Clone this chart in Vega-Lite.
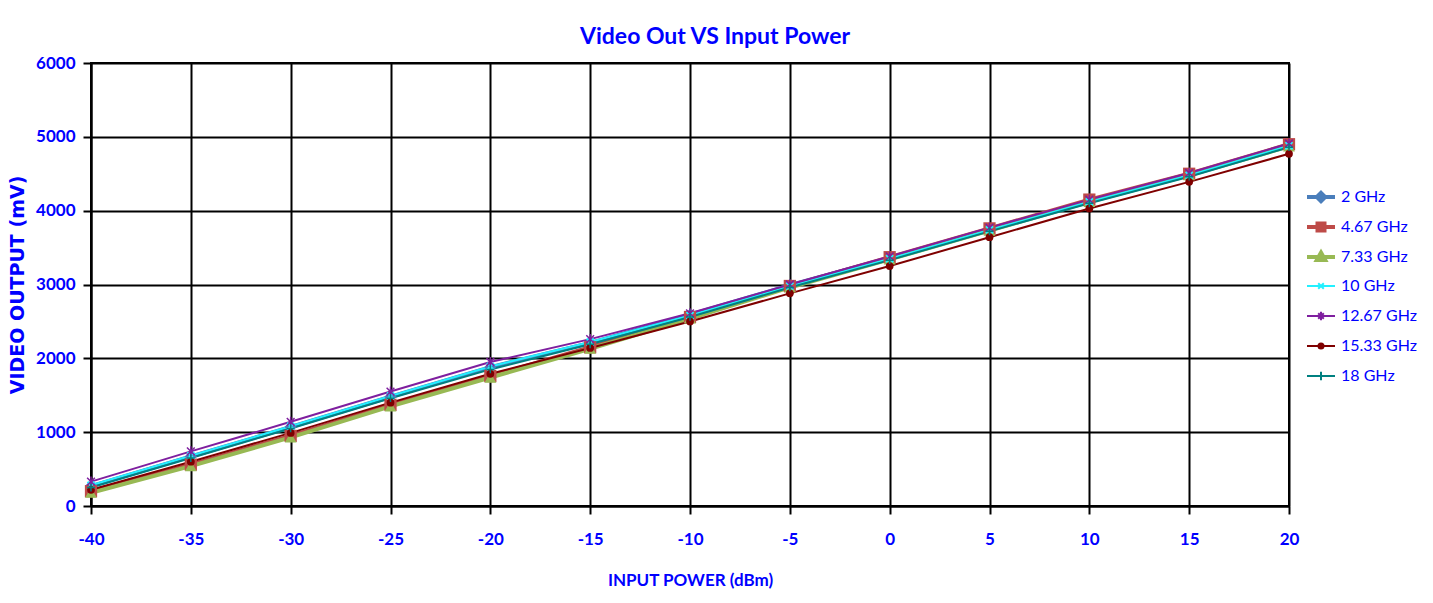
{
  "$schema": "https://vega.github.io/schema/vega-lite/v6.json",
  "width": 1198,
  "height": 443,
  "autosize": {"type": "none"},
  "padding": {"left": 91, "top": 63, "right": 144, "bottom": 97},
  "background": "white",
  "title": {"text": "Video Out VS Input Power", "font": "Lato", "fontSize": 23, "fontWeight": "bold", "color": "#0000FF", "offset": 5, "dx": 25},
  "config": {"view": {"stroke": "black", "strokeWidth": 2}},
  "data": {"values": [
    {"s": "2 GHz", "p": -40, "v": 270}, {"s": "2 GHz", "p": -35, "v": 670}, {"s": "2 GHz", "p": -30, "v": 1070}, {"s": "2 GHz", "p": -25, "v": 1480}, {"s": "2 GHz", "p": -20, "v": 1880}, {"s": "2 GHz", "p": -15, "v": 2210}, {"s": "2 GHz", "p": -10, "v": 2590}, {"s": "2 GHz", "p": -5, "v": 2990}, {"s": "2 GHz", "p": 0, "v": 3360}, {"s": "2 GHz", "p": 5, "v": 3750}, {"s": "2 GHz", "p": 10, "v": 4130}, {"s": "2 GHz", "p": 15, "v": 4490}, {"s": "2 GHz", "p": 20, "v": 4880},
    {"s": "4.67 GHz", "p": -40, "v": 200}, {"s": "4.67 GHz", "p": -35, "v": 560}, {"s": "4.67 GHz", "p": -30, "v": 950}, {"s": "4.67 GHz", "p": -25, "v": 1370}, {"s": "4.67 GHz", "p": -20, "v": 1760}, {"s": "4.67 GHz", "p": -15, "v": 2150}, {"s": "4.67 GHz", "p": -10, "v": 2560}, {"s": "4.67 GHz", "p": -5, "v": 2980}, {"s": "4.67 GHz", "p": 0, "v": 3370}, {"s": "4.67 GHz", "p": 5, "v": 3760}, {"s": "4.67 GHz", "p": 10, "v": 4150}, {"s": "4.67 GHz", "p": 15, "v": 4500}, {"s": "4.67 GHz", "p": 20, "v": 4900},
    {"s": "7.33 GHz", "p": -40, "v": 180}, {"s": "7.33 GHz", "p": -35, "v": 540}, {"s": "7.33 GHz", "p": -30, "v": 930}, {"s": "7.33 GHz", "p": -25, "v": 1350}, {"s": "7.33 GHz", "p": -20, "v": 1740}, {"s": "7.33 GHz", "p": -15, "v": 2130}, {"s": "7.33 GHz", "p": -10, "v": 2540}, {"s": "7.33 GHz", "p": -5, "v": 2960}, {"s": "7.33 GHz", "p": 0, "v": 3340}, {"s": "7.33 GHz", "p": 5, "v": 3730}, {"s": "7.33 GHz", "p": 10, "v": 4120}, {"s": "7.33 GHz", "p": 15, "v": 4480}, {"s": "7.33 GHz", "p": 20, "v": 4870},
    {"s": "10 GHz", "p": -40, "v": 280}, {"s": "10 GHz", "p": -35, "v": 680}, {"s": "10 GHz", "p": -30, "v": 1080}, {"s": "10 GHz", "p": -25, "v": 1490}, {"s": "10 GHz", "p": -20, "v": 1890}, {"s": "10 GHz", "p": -15, "v": 2220}, {"s": "10 GHz", "p": -10, "v": 2580}, {"s": "10 GHz", "p": -5, "v": 2980}, {"s": "10 GHz", "p": 0, "v": 3350}, {"s": "10 GHz", "p": 5, "v": 3740}, {"s": "10 GHz", "p": 10, "v": 4120}, {"s": "10 GHz", "p": 15, "v": 4480}, {"s": "10 GHz", "p": 20, "v": 4880},
    {"s": "12.67 GHz", "p": -40, "v": 330}, {"s": "12.67 GHz", "p": -35, "v": 740}, {"s": "12.67 GHz", "p": -30, "v": 1140}, {"s": "12.67 GHz", "p": -25, "v": 1550}, {"s": "12.67 GHz", "p": -20, "v": 1950}, {"s": "12.67 GHz", "p": -15, "v": 2260}, {"s": "12.67 GHz", "p": -10, "v": 2610}, {"s": "12.67 GHz", "p": -5, "v": 3000}, {"s": "12.67 GHz", "p": 0, "v": 3380}, {"s": "12.67 GHz", "p": 5, "v": 3770}, {"s": "12.67 GHz", "p": 10, "v": 4150}, {"s": "12.67 GHz", "p": 15, "v": 4510}, {"s": "12.67 GHz", "p": 20, "v": 4910},
    {"s": "15.33 GHz", "p": -40, "v": 220}, {"s": "15.33 GHz", "p": -35, "v": 600}, {"s": "15.33 GHz", "p": -30, "v": 990}, {"s": "15.33 GHz", "p": -25, "v": 1400}, {"s": "15.33 GHz", "p": -20, "v": 1790}, {"s": "15.33 GHz", "p": -15, "v": 2140}, {"s": "15.33 GHz", "p": -10, "v": 2500}, {"s": "15.33 GHz", "p": -5, "v": 2880}, {"s": "15.33 GHz", "p": 0, "v": 3250}, {"s": "15.33 GHz", "p": 5, "v": 3640}, {"s": "15.33 GHz", "p": 10, "v": 4030}, {"s": "15.33 GHz", "p": 15, "v": 4390}, {"s": "15.33 GHz", "p": 20, "v": 4770},
    {"s": "18 GHz", "p": -40, "v": 250}, {"s": "18 GHz", "p": -35, "v": 650}, {"s": "18 GHz", "p": -30, "v": 1050}, {"s": "18 GHz", "p": -25, "v": 1460}, {"s": "18 GHz", "p": -20, "v": 1850}, {"s": "18 GHz", "p": -15, "v": 2190}, {"s": "18 GHz", "p": -10, "v": 2560}, {"s": "18 GHz", "p": -5, "v": 2960}, {"s": "18 GHz", "p": 0, "v": 3330}, {"s": "18 GHz", "p": 5, "v": 3720}, {"s": "18 GHz", "p": 10, "v": 4100}, {"s": "18 GHz", "p": 15, "v": 4460}, {"s": "18 GHz", "p": 20, "v": 4860}
  ]},
  "encoding": {
    "x": {"field": "p", "type": "quantitative",
      "scale": {"domain": [-40, 20], "nice": false, "zero": false},
      "axis": {"values": [-40, -35, -30, -25, -20, -15, -10, -5, 0, 5, 10, 15, 20], "title": "INPUT POWER (dBm)",
        "labelExpr": "toString(datum.value)",
        "grid": true, "gridColor": "black", "gridWidth": 2, "gridOpacity": 1,
        "domainColor": "black", "domainWidth": 2, "tickColor": "black", "tickWidth": 2, "tickSize": 8,
        "labelFont": "Lato", "labelFontSize": 17, "labelFontWeight": "bold", "labelColor": "#0000FF", "labelPadding": 17, "labelFlush": false,
        "titleFont": "Lato", "titleFontSize": 17, "titleFontWeight": "bold", "titleColor": "#0000FF", "titlePadding": 25}},
    "y": {"field": "v", "type": "quantitative",
      "scale": {"domain": [0, 6000], "nice": false},
      "axis": {"values": [0, 1000, 2000, 3000, 4000, 5000, 6000], "title": "VIDEO OUTPUT (mV)", "format": "d",
        "grid": true, "gridColor": "black", "gridWidth": 2, "gridOpacity": 1,
        "domainColor": "black", "domainWidth": 2, "tickColor": "black", "tickWidth": 2, "tickSize": 8,
        "labelFont": "Lato", "labelFontSize": 17, "labelFontWeight": "bold", "labelColor": "#0000FF", "labelPadding": 8,
        "titleFont": "DejaVu Sans", "titleFontSize": 19, "titleFontWeight": "bold", "titleColor": "#0000FF", "titlePadding": 8}}
  },
  "layer": [
    {"transform": [{"filter": "false"}],
     "mark": {"type": "point", "filled": true, "opacity": 1},
     "encoding": {
       "color": {"field": "s", "type": "nominal",
         "scale": {"domain": ["2 GHz", "4.67 GHz", "7.33 GHz", "10 GHz", "12.67 GHz", "15.33 GHz", "18 GHz"],
           "range": ["#4A7EBB", "#BE4B48", "#98B954", "#22F0FF", "#7F1F9F", "#7F0000", "#008080"]},
         "legend": {"orient": "none", "legendX": 1214, "legendY": 118, "title": null, "padding": 0,
           "symbolSize": 784, "rowPadding": 1, "gridAlign": "all", "labelOffset": 4,
           "labelFont": "Lato", "labelFontSize": 16, "labelColor": "#0000FF", "symbolOpacity": 1}},
       "shape": {"field": "s", "type": "nominal",
         "scale": {"domain": ["2 GHz", "4.67 GHz", "7.33 GHz", "10 GHz", "12.67 GHz", "15.33 GHz", "18 GHz"],
           "range": [
             "M-1,0L1,0M0,-0.3L0.3,0L0,0.3L-0.3,0Z",
             "M-1,0L1,0M-0.25,-0.25L0.25,-0.25L0.25,0.25L-0.25,0.25Z",
             "M-1,0L1,0M0,-0.32L0.3,0.22L-0.3,0.22Z",
             "M-1,0L1,0M-0.2,-0.2L0.2,0.2M-0.2,0.2L0.2,-0.2",
             "M-1,0L1,0M-0.2,-0.2L0.2,0.2M-0.2,0.2L0.2,-0.2M0,-0.3L0,0.3",
             "M-1,0L1,0M0.18,0A0.18,0.18,0,1,1,-0.18,0A0.18,0.18,0,1,1,0.18,0Z",
             "M-1,0L1,0M0,-0.3L0,0.3"]},
         "legend": {"title": null}},
       "strokeWidth": {"field": "s", "type": "nominal",
         "scale": {"type": "ordinal", "domain": ["2 GHz", "4.67 GHz", "7.33 GHz", "10 GHz", "12.67 GHz", "15.33 GHz", "18 GHz"], "range": [4, 4, 4, 2, 2, 2, 2]},
         "legend": {"title": null}}
     }},
    {"mark": {"type": "line"},
     "encoding": {
       "color": {"field": "s", "type": "nominal",
         "scale": {"domain": ["2 GHz", "4.67 GHz", "7.33 GHz", "10 GHz", "12.67 GHz", "15.33 GHz", "18 GHz"],
           "range": ["#4A7EBB", "#BE4B48", "#98B954", "#22F0FF", "#7F1F9F", "#7F0000", "#008080"]},
         "legend": {"title": null}},
       "strokeWidth": {"field": "s", "type": "nominal",
         "scale": {"type": "ordinal", "domain": ["2 GHz", "4.67 GHz", "7.33 GHz", "10 GHz", "12.67 GHz", "15.33 GHz", "18 GHz"], "range": [4, 4, 4, 2, 2, 2, 2]},
         "legend": {"title": null}}}},
    {"transform": [{"filter": "datum.s == '2 GHz'"}],
     "mark": {"type": "point", "shape": "diamond", "filled": true, "size": 150, "color": "#4A7EBB", "opacity": 1}},
    {"transform": [{"filter": "datum.s == '4.67 GHz'"}],
     "mark": {"type": "point", "shape": "square", "filled": true, "size": 150, "color": "#BE4B48", "opacity": 1}},
    {"transform": [{"filter": "datum.s == '7.33 GHz'"}],
     "mark": {"type": "point", "shape": "triangle-up", "filled": true, "size": 140, "color": "#98B954", "opacity": 1}},
    {"transform": [{"filter": "datum.s == '10 GHz'"}],
     "mark": {"type": "point", "shape": "M-1,-1L1,1M-1,1L1,-1", "filled": false, "size": 50, "strokeWidth": 2, "color": "#22F0FF", "opacity": 1}},
    {"transform": [{"filter": "datum.s == '12.67 GHz'"}],
     "mark": {"type": "point", "shape": "M-1,-1L1,1M-1,1L1,-1M0,-1.3L0,1.3", "filled": false, "size": 60, "strokeWidth": 1.5, "color": "#7F1F9F", "opacity": 1}},
    {"transform": [{"filter": "datum.s == '15.33 GHz'"}],
     "mark": {"type": "point", "shape": "circle", "filled": true, "size": 60, "color": "#7F0000", "opacity": 1}},
    {"transform": [{"filter": "datum.s == '18 GHz'"}],
     "mark": {"type": "point", "shape": "M0,-1L0,1M-1,0L1,0", "filled": false, "size": 60, "strokeWidth": 1.5, "color": "#008080", "opacity": 1}}
  ]
}
